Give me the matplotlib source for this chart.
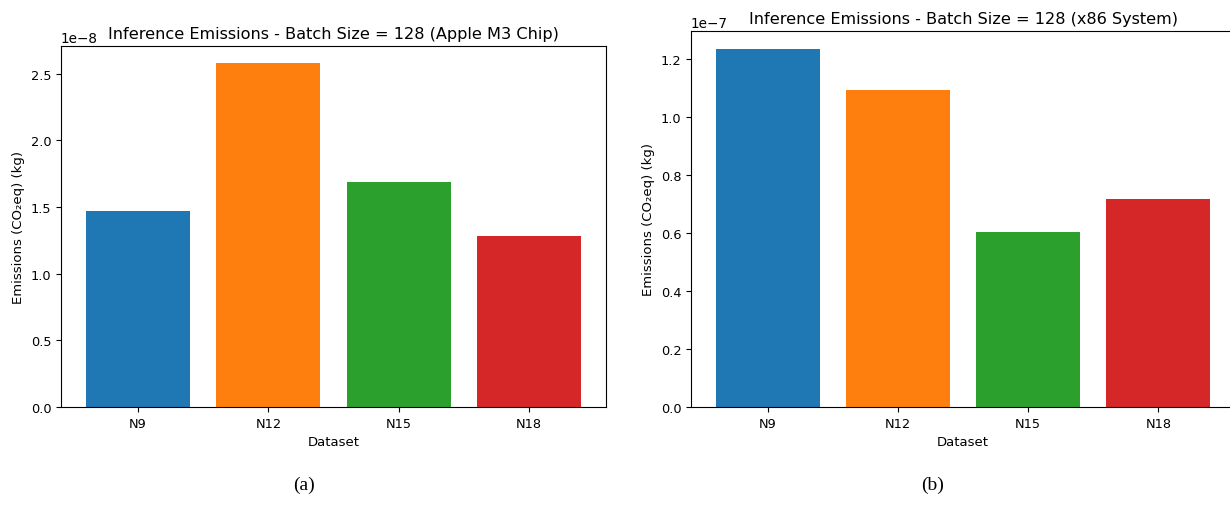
import matplotlib
matplotlib.use("Agg")
import matplotlib.pyplot as plt

# Data
datasets = ["N9", "N12", "N15", "N18"]
apple_m3 = [1.47e-8, 2.58e-8, 1.69e-8, 1.285e-8]
x86_system = [1.235e-7, 1.093e-7, 0.605e-7, 0.716e-7]
bar_colors = ["#1f77b4", "#ff7f0e", "#2ca02c", "#d62728"]

fig = plt.figure(figsize=(12.3, 5.06), dpi=100)

# Left panel: Apple M3
ax1 = fig.add_axes([0.0496, 0.1937, 0.4431, 0.7134])
ax1.bar(datasets, apple_m3, color=bar_colors)
ax1.set_title("Inference Emissions - Batch Size = 128 (Apple M3 Chip)", fontsize=11.6)
ax1.set_xlabel("Dataset", fontsize=9.5)
ax1.set_ylabel("Emissions (CO\u2082eq) (kg)", fontsize=9.5)
ax1.tick_params(labelsize=9.3)
ax1.yaxis.get_offset_text().set_fontsize(9.8)

# Right panel: x86 (cut at the figure edge like the reference)
ax2 = fig.add_axes([0.5618, 0.1937, 0.4423, 0.7431])
ax2.bar(datasets, x86_system, color=bar_colors)
ax2.set_title("Inference Emissions - Batch Size = 128 (x86 System)", fontsize=11.6)
ax2.set_xlabel("Dataset", fontsize=9.5)
ax2.set_ylabel("Emissions (CO\u2082eq) (kg)", fontsize=9.5)
ax2.tick_params(labelsize=9.3)
ax2.yaxis.get_offset_text().set_fontsize(9.8)

# Sub-captions
fig.text(0.247, 0.032, "(a)", fontsize=14, family="Liberation Serif", ha="center")
fig.text(0.758, 0.032, "(b)", fontsize=14, family="Liberation Serif", ha="center")

fig.savefig("out.png", dpi=100)
